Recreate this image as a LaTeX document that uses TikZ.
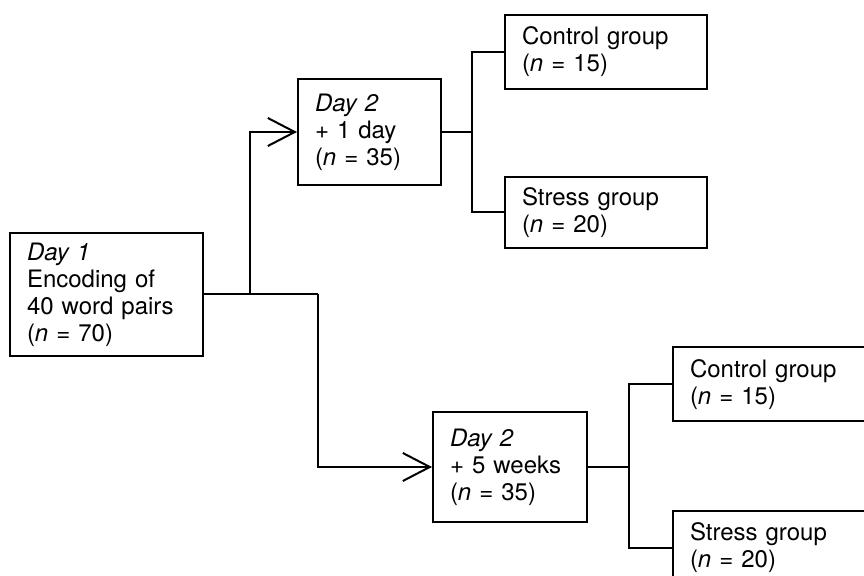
\documentclass[tikz,border=0pt]{standalone}
\usepackage{fontspec}
\setmainfont{TeX Gyre Heros}
\usetikzlibrary{arrows.meta}

\begin{document}
\begin{tikzpicture}[
  x=0.5pt,y=-0.5pt,
  font=\fontsize{12}{13.5}\selectfont,
  box/.style={draw,line width=1pt,align=left,inner xsep=8.5pt,inner ysep=2pt},
  link/.style={line width=1pt},
  arr/.style={link,-{Straight Barb[length=13.5pt,width=14pt,line width=1pt]}}]

\useasboundingbox (0,0) rectangle (864,576);
\clip (0,0) rectangle (864,576);

% ---- day 1 ----
\node[box,text width=79.5pt,minimum height=61.5pt] (day1) at (106.5,294.5)
  {\textit{Day 1}\\Encoding of\\40 word pairs\\(\textit{n} = 70)};

% ---- day 2 ----
\node[box,text width=54.5pt,minimum height=53pt] (dayday) at (369.5,132)
  {\textit{Day 2}\\+ 1 day\\(\textit{n} = 35)};
\node[box,text width=60pt,minimum height=55pt] (dayweeks) at (510,467)
  {\textit{Day 2}\\+ 5 weeks\\(\textit{n} = 35)};

% ---- groups ----
\node[box,text width=84pt,minimum height=37pt] (ctrlday) at (606,52)
  {Control group\\(\textit{n} = 15)};
\node[box,text width=84pt,minimum height=35.5pt] (stressday) at (606,212.5)
  {Stress group\\(\textit{n} = 20)};
\node[box,text width=84pt,minimum height=37pt] (ctrlweeks) at (774,384.5)
  {Control group\\(\textit{n} = 15)};
\node[box,text width=84pt,minimum height=37pt] (stressweeks) at (774,548)
  {Stress group\\(\textit{n} = 20)};

% forks
\coordinate (forkday) at (250,294.5);
\coordinate (forkweeks) at (318,294.5);
\coordinate (splitday) at (472,132);
\coordinate (splitweeks) at (629,467);

\draw[link] (day1.east) -- (forkweeks);
\draw[arr] (forkday) |- (dayday.west);
\draw[arr] (forkweeks) |- (dayweeks.west);

\draw[link] (dayday.east) -- (splitday);
\draw[link] (ctrlday.west) -| (splitday) |- (stressday.west);
\draw[link] (dayweeks.east) -- (splitweeks);
\draw[link] (ctrlweeks.west) -| (splitweeks) |- (stressweeks.west);
\end{tikzpicture}
\end{document}
